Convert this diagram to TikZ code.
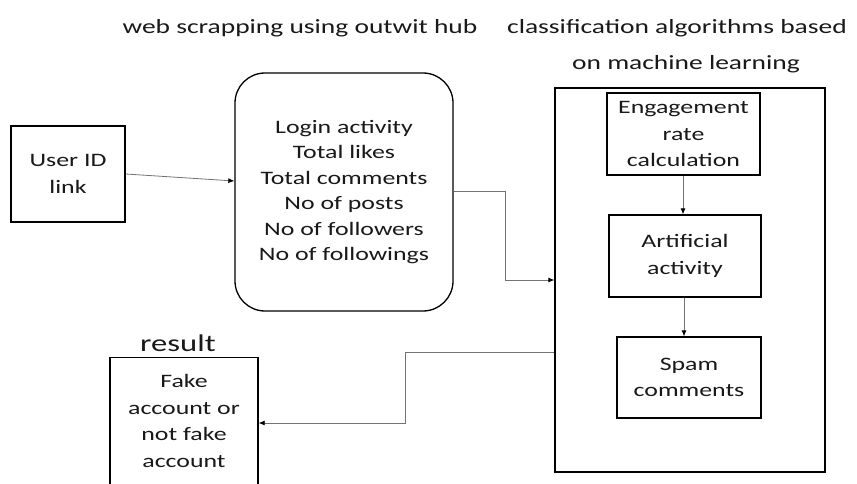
\documentclass[tikz,border=0pt]{standalone}
\usepackage{fontspec}
\setmainfont[FakeStretch=1.36]{Carlito}
\usetikzlibrary{arrows.meta}
\begin{document}
\begin{tikzpicture}[x=1pt,y=-1pt,
  box/.style={draw=black,line width=1.3pt,align=center,inner sep=0pt,text=black!90,font=\fontsize{19}{26.5}\selectfont},
  conn/.style={draw=black!55,line width=0.8pt,-{Latex[length=6pt,width=5pt,black]}},
  lbl/.style={font=\fontsize{20.2}{24}\selectfont,inner sep=0pt,text=black!90}]
\clip (0,0) rectangle (857,484);
\fill[white] (0,0) rectangle (857,484);
% boxes
\node[box,minimum width=114pt,minimum height=96pt] (user) at (68,174) {User ID\\link};
\node[box,rounded corners=30pt,minimum width=218pt,minimum height=238pt,font=\fontsize{19}{25.4}\selectfont] (feat) at (344,192)
  {Login activity\\Total likes\\Total comments\\No of posts\\No of followers\\No of followings};
\node[box,minimum width=270pt,minimum height=384pt] (cls) at (690,280) {};
\node[box,minimum width=153pt,minimum height=82pt] (eng) at (683.5,134) {Engagement\\rate\\calculation};
\node[box,minimum width=152pt,minimum height=82pt] (art) at (685,256) {Artificial\\activity};
\node[box,minimum width=144pt,minimum height=81pt] (spam) at (689,377.5) {Spam\\comments};
\node[box,minimum width=148pt,minimum height=150pt,anchor=north] (res) at (184,357) {};
\node[lbl,font=\fontsize{19}{26.7}\selectfont,align=center,anchor=north] (restext) at (184,374) {Fake\\account or\\not fake\\account};
% labels
\node[lbl] (t1) at (300,28) {web scrapping using outwit hub};
\node[lbl] (t2) at (677,28) {classification algorithms based};
\node[lbl] (t3) at (686,64) {on machine learning};
\node[font=\fontsize{24}{28}\selectfont,inner sep=0pt,text=black!90] (rl) at (178,343) {result};
% connectors
\draw[conn] (user.east) -- (feat.west |- 0,181);
\draw[conn] (feat.east |- 0,191) -- (505,191) -- (505,280) -- (cls.west |- 0,280);
\draw[conn] (eng.south -| 683,0) -- (art.north -| 683,0);
\draw[conn] (art.south -| 684,0) -- (spam.north -| 684,0);
\draw[conn] (cls.west |- 0,352) -- (405,352) -- (405,423) -- (res.east |- 0,423);
\end{tikzpicture}
\end{document}
